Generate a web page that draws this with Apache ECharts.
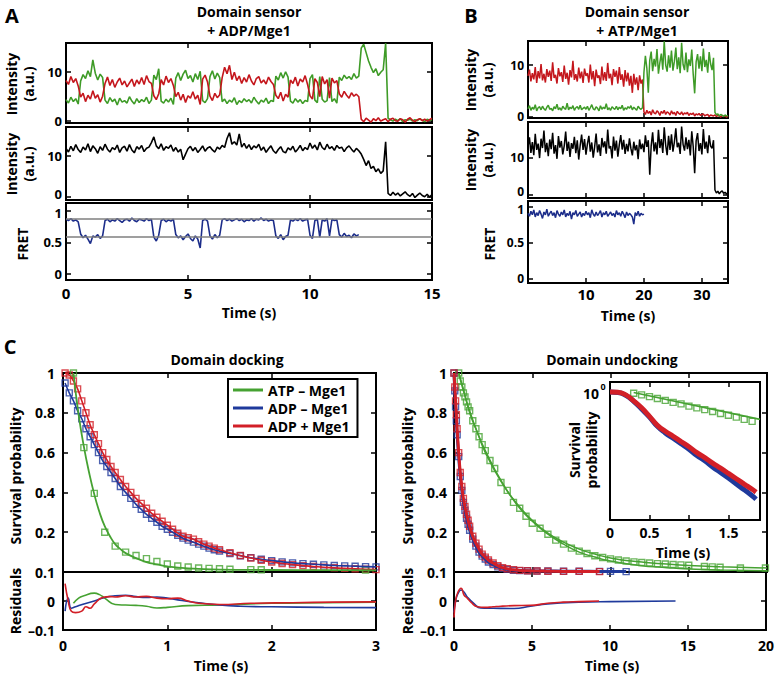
<!DOCTYPE html>
<html><head><meta charset="utf-8">
<script src="https://cdn.jsdelivr.net/npm/echarts@6/dist/echarts.min.js"></script>
<style>html,body{margin:0;padding:0;background:#fff}#c{width:777px;height:675px}</style>
</head><body><div id="c"></div>
<script>
// ---------------- DATA ----------------
// Panel A: single-molecule traces, sampled every 0.1 s
const dtA = 0.1;
const redA = [8.2,7.4,9.0,7.8,8.6,7.1,
 4.8,5.6,3.9,5.2,4.4,6.1,4.6,5.3,3.8,5.0,
 7.6,8.9,7.2,8.4,6.8,7.9,8.7,7.3,8.1,6.9,7.7,8.5,7.0,8.3,7.5,8.8,7.4,9.2,8.0,7.6,
 5.1,4.3,5.5,
 8.4,7.3,9.1,7.8,8.6,7.2,
 4.9,5.8,4.2,5.4,3.7,5.1,4.6,5.9,4.4,5.2,3.3,
 8.5,9.3,7.9,
 5.0,4.1,5.6,4.7,5.3,
 8.8,10.9,9.6,11.3,8.4,9.9,8.2,9.1,7.6,8.8,7.9,9.4,8.1,7.3,8.6,9.0,7.7,8.3,7.5,8.9,8.0,7.4,
 5.2,4.5,5.8,4.0,5.4,4.8,
 8.3,7.6,8.9,7.1,8.5,7.9,9.2,7.4,
 5.1,4.4, 8.6,7.8, 4.9, 9.0,7.5,8.4, 4.6, 8.7,7.7,8.2,
 5.5,4.8,6.0,5.2,4.6,5.7,5.0,5.4,4.9,
 0.3,-0.2,0.5,0.1,-0.3,0.4,0.0,0.6,-0.1,0.2,0.4,-0.2,0.3,0.5,0.0,-0.1,0.4,0.2,-0.3,0.3,0.6,0.1,-0.2,0.2,0.4,0.0,0.3,-0.1,0.2,0.5];
const greenA = [4.3,3.6,4.8,3.9,4.5,3.4,
 8.1,9.4,8.6,10.2,9.0,12.4,9.7,8.3,9.5,8.8,
 4.2,3.5,4.7,3.9,4.4,3.2,4.6,3.8,4.1,3.6,4.9,4.0,3.4,4.5,3.7,4.3,3.9,4.8,3.5,4.2,
 9.3,8.4,10.6,
 4.0,3.6,4.4,3.8,4.6,3.3,
 8.7,9.8,8.2,9.5,10.3,8.6,9.2,7.9,9.6,8.4,10.1,
 4.1,3.7,4.5,
 9.0,10.2,8.5,9.7,8.8,
 3.9,4.4,3.5,4.2,3.8,4.7,3.3,4.1,3.7,4.5,3.9,4.3,3.6,4.8,4.0,3.4,4.2,3.8,4.6,3.5,4.1,3.9,
 9.1,8.3,9.8,8.7,10.0,8.9,
 4.0,3.6,4.5,3.8,4.3,3.5,4.1,3.9,
 8.6,9.4, 4.2,3.7, 9.0, 4.4,3.8,4.1, 8.8, 3.9,4.5,3.6,
 8.9,8.2,9.3,8.6,9.0,8.4,9.6,8.7,9.1,
 14.8,15.6,13.9,12.2,10.9,9.8,10.6,9.2,9.9,10.4,15.8,
 0.5,0.2,-0.1,0.3,0.0,0.4,-0.2,0.2,0.1,0.3,-0.1,0.2,0.0,0.4,0.1,-0.2,0.3,0.1,0.2];
const blackA = [11.8,10.9,12.3,11.2,12.7,11.5,10.8,12.1,11.4,12.9,
 11.0,12.4,11.7,10.6,12.2,11.3,12.8,11.6,10.9,12.0,
 11.5,12.6,10.8,11.9,12.3,11.1,12.7,11.4,10.7,12.2,
 11.6,12.5,11.0,11.8,12.1,13.2,14.6,12.4,11.7,12.9,
 11.3,12.2,11.8,12.6,11.1,12.0,10.9,11.6,9.0,10.4,
 11.7,12.3,11.2,12.0,10.8,11.5,12.4,11.1,11.9,12.2,
 11.4,10.9,12.1,11.6,12.5,12.0,14.2,15.6,12.8,13.4,
 12.6,15.3,12.1,13.0,11.8,12.7,11.5,12.4,11.9,12.8,
 11.3,12.1,10.8,11.7,12.4,11.2,10.6,11.5,12.2,11.0,
 10.7,11.9,11.4,12.3,10.9,11.6,12.5,11.2,12.0,11.5,
 13.1,11.8,12.6,11.4,13.3,12.0,11.5,12.8,11.7,12.2,
 11.3,12.5,11.8,12.1,11.0,11.9,12.4,11.6,10.9,11.8,
 11.2,10.4,9.1,7.6,8.8,6.9,7.4,6.1,6.8,5.7,
 6.3,13.4,0.8,0.3,1.1,0.4,0.9,0.2,0.7,1.2,
 0.5,0.1,0.8,-0.2,0.4,0.9,0.3,0.0,0.6,-0.1,0.5];
const fretA = [0.86,0.84,0.87,0.83,0.85,0.82,
 0.63,0.57,0.61,0.55,0.48,0.60,0.58,0.62,0.56,0.60,
 0.84,0.86,0.82,0.85,0.83,0.87,0.84,0.81,0.85,0.86,0.83,0.88,0.84,0.82,0.86,0.85,0.83,0.87,0.84,0.86,
 0.58,0.52,0.61,
 0.84,0.86,0.82,0.85,0.83,0.86,
 0.62,0.57,0.60,0.54,0.59,0.63,0.56,0.52,0.60,0.55,0.41,
 0.84,0.86,0.83,
 0.60,0.55,0.62,0.57,0.61,
 0.85,0.87,0.84,0.86,0.83,0.85,0.87,0.84,0.86,0.82,0.85,0.84,0.87,0.83,0.86,0.85,0.88,0.84,0.86,0.83,0.85,0.84,
 0.60,0.56,0.62,0.54,0.59,0.61,
 0.85,0.83,0.86,0.84,0.87,0.83,0.85,0.86,
 0.61,0.56, 0.84,0.86, 0.58, 0.85,0.83,0.87, 0.60, 0.86,0.84,0.85,
 0.62,0.58,0.64,0.59,0.61,0.57,0.63,0.60,0.62];
const fretLevelsA = [0.87, 0.595];

// Panel B: traces sampled every 0.25 s
const dtB = 0.25;
const redB = [7.9,9.1,6.8,8.4,7.2,9.6,6.5,8.8,7.4,10.2,7.0,8.3,6.6,9.2,7.7,8.9,6.9,10.5,7.5,8.1,
 6.4,9.4,7.8,8.6,6.7,9.9,7.3,8.5,6.2,9.0,7.6,10.8,7.1,8.2,6.8,9.5,7.4,8.7,6.5,9.3,
 7.9,8.4,6.6,10.1,7.2,8.8,5.9,9.1,7.5,8.0,6.3,9.7,7.0,8.6,6.9,10.4,7.4,8.3,6.1,9.2,
 7.7,8.9,6.4,9.6,7.1,8.2,5.8,9.0,6.8,8.5,6.0,7.9,4.6,8.3,6.2,7.6,5.1,8.0,6.4,7.2,
 0.9,0.4,1.2,0.6,1.0,0.3,1.3,0.7,0.5,1.1,0.8,0.2,1.0,0.6,1.2,0.4,0.9,0.7,0.3,1.1,
 0.5,0.8,0.2,1.0,0.6,0.4,0.9,0.3,0.7,0.5,0.8,0.2,0.6,0.4,0.7,0.1,0.5,0.3,0.6,0.2,
 0.4,0.5,0.1,0.3,0.4,0.0,0.3,0.2,0.1,0.3,0.0,0.2,0.1,-0.1,0.2,0.0,0.1,-0.1,0.1];
const greenB = [1.5,2.1,1.2,1.8,1.4,2.3,1.1,1.7,1.9,1.3,2.0,1.5,1.2,1.8,2.2,1.4,1.6,1.1,1.9,1.5,
 2.4,1.3,1.7,1.2,2.0,1.6,1.4,2.6,1.3,1.8,1.5,2.1,1.2,1.7,1.9,1.4,2.2,1.3,1.6,1.8,
 1.4,2.0,1.2,1.7,2.3,1.5,1.3,1.9,1.6,1.1,2.1,1.4,1.8,1.5,2.5,1.3,1.7,1.2,1.9,1.6,
 1.4,2.0,1.3,1.8,1.5,2.2,1.2,1.7,1.4,1.9,1.6,2.1,1.3,1.8,1.5,1.2,2.0,1.6,1.4,1.7,
 8.6,11.8,9.4,4.6,10.9,12.6,8.8,11.2,9.7,13.1,8.3,10.5,12.2,9.1,14.6,10.0,8.7,11.9,9.5,12.8,
 8.9,10.7,13.4,9.2,11.5,8.4,14.3,10.1,9.0,12.4,8.6,11.1,9.8,13.0,8.2,4.5,10.6,12.1,9.3,11.7,
 8.8,13.2,9.6,11.0,8.5,12.5,10.2,9.0,11.4,
 0.8,0.3,0.5,0.1,0.4,0.2,0.0,0.3,0.1,0.2];
const blackB = [12.8,15.4,11.2,14.1,10.6,16.3,12.0,13.7,9.8,15.0,12.5,17.2,11.4,13.9,10.3,14.8,12.2,16.6,11.0,13.3,
 9.6,15.7,12.6,14.4,10.8,13.1,16.9,11.7,14.2,10.1,13.8,12.3,15.5,11.1,14.6,9.4,13.2,16.1,12.0,14.9,
 10.7,13.6,15.8,11.5,14.0,9.9,12.9,16.4,11.3,13.5,10.4,15.2,12.7,14.3,11.0,17.5,12.4,13.0,9.7,15.6,
 11.8,14.5,10.2,13.4,16.0,12.1,14.7,10.9,13.6,11.6,15.1,12.4,10.5,14.2,11.9,13.3,9.5,14.8,12.2,13.7,
 11.4,15.9,12.8,14.6,5.3,13.1,16.7,11.6,14.0,10.8,17.4,12.5,14.9,11.2,18.1,13.3,10.6,15.8,12.0,16.2,
 11.5,14.1,17.8,12.7,13.9,10.9,18.3,13.5,11.8,15.4,12.2,14.7,10.5,17.0,12.9,5.7,14.4,16.5,11.7,13.8,
 10.8,17.6,12.3,14.2,11.1,15.9,13.0,12.4,14.6,
 1.2,0.4,0.9,0.2,0.7,1.0,0.3,0.6,0.1,0.5];
const fretB = [0.91,0.87,0.94,0.89,0.96,0.86,0.92,0.88,0.95,0.90,0.84,0.93,0.89,0.97,0.87,0.91,0.94,0.88,0.92,0.85,
 0.95,0.90,0.87,0.93,0.89,0.96,0.86,0.91,0.88,0.94,0.83,0.92,0.89,0.95,0.87,0.90,0.93,0.86,0.91,0.88,
 0.94,0.89,0.92,0.85,0.96,0.90,0.87,0.93,0.88,0.91,0.95,0.86,0.92,0.89,0.94,0.87,0.90,0.93,0.88,0.91,
 0.86,0.95,0.89,0.92,0.87,0.94,0.90,0.85,0.93,0.88,0.91,0.89,0.86,0.76,0.92,0.88,0.94,0.87,0.91,0.89,
 0.90];

// Panel C left: domain docking survival
const dockT = [0.02,0.06,0.1,0.14,0.18,0.22,0.26,0.3,0.34,0.38,0.42,0.46,0.5,0.55,0.6,0.65,0.7,0.75,0.8,0.85,0.9,0.95,1.0,1.05,1.1,1.15,1.2,1.25,1.3,1.35,1.4,1.45,1.5,1.6,1.7,1.8,1.9,2.0,2.1,2.2,2.3,2.4,2.5,2.6,2.7,2.8,2.9,3.0];
const dockBlue = [0.95,0.90,0.86,0.81,0.77,0.72,0.68,0.64,0.60,0.56,0.53,0.50,0.47,0.43,0.40,0.37,0.34,0.315,0.29,0.27,0.25,0.23,0.215,0.20,0.185,0.17,0.16,0.15,0.14,0.13,0.12,0.112,0.105,0.093,0.082,0.072,0.064,0.057,0.051,0.046,0.042,0.039,0.036,0.033,0.031,0.029,0.027,0.026];
const dockRed = [1.0,0.99,0.96,0.92,0.86,0.80,0.74,0.69,0.645,0.60,0.565,0.53,0.50,0.465,0.43,0.40,0.37,0.345,0.32,0.295,0.275,0.255,0.235,0.215,0.195,0.18,0.172,0.165,0.152,0.14,0.13,0.12,0.112,0.097,0.083,0.07,0.059,0.05,0.043,0.037,0.032,0.028,0.024,0.021,0.018,0.016,0.014,0.012];
const dockGreenT = [0.1,0.2,0.3,0.4,0.5,0.6,0.7,0.8,0.9,1.0,1.1,1.2,1.3,1.4,1.5,1.6,1.8,1.9,2.9];
const dockGreen = [1.0,0.625,0.395,0.20,0.13,0.10,0.083,0.067,0.053,0.04,0.03,0.025,0.02,0.018,0.016,0.014,0.012,0.011,0.01];
const dockGreenFitT = [0.1,0.15,0.2,0.25,0.3,0.35,0.4,0.45,0.5,0.55,0.6,0.7,0.8,0.9,1.0,1.2,1.5,2.0,2.5,3.0];
const dockGreenFit = [1.0,0.79,0.63,0.50,0.39,0.30,0.23,0.18,0.14,0.115,0.095,0.07,0.05,0.038,0.028,0.018,0.012,0.01,0.009,0.008];
const dockResGreen = [[0.1,-0.008],[0.15,0.01],[0.2,0.018],[0.3,0.027],[0.35,0.022],[0.4,0.01],[0.5,-0.012],[0.6,-0.014],[0.7,-0.015],[0.8,-0.018],[0.9,-0.024],[1.0,-0.022],[1.2,-0.016],[1.5,-0.014],[2.0,-0.008],[2.5,-0.006],[3.0,-0.004]];
const dockResBlue = [[0.02,-0.035],[0.05,0.01],[0.08,-0.025],[0.12,-0.02],[0.2,-0.01],[0.3,0.0],[0.4,0.012],[0.5,0.018],[0.6,0.02],[0.7,0.015],[0.8,0.012],[0.9,0.014],[1.0,0.01],[1.1,0.004],[1.3,-0.006],[1.5,-0.014],[1.7,-0.018],[2.0,-0.02],[2.5,-0.022],[3.0,-0.023]];
const dockResRed = [[0.02,0.06],[0.05,0.0],[0.08,-0.035],[0.12,-0.04],[0.18,-0.035],[0.22,-0.02],[0.26,-0.025],[0.3,-0.01],[0.38,0.012],[0.45,0.015],[0.5,0.014],[0.6,0.018],[0.7,0.014],[0.8,0.016],[0.9,0.01],[1.0,0.008],[1.1,0.01],[1.2,0.0],[1.3,-0.008],[1.5,-0.012],[1.8,-0.008],[2.2,-0.006],[2.6,-0.004],[3.0,-0.003]];

// Panel C right: domain undocking survival
const undockT = [0,0.05,0.1,0.15,0.2,0.3,0.4,0.5,0.6,0.7,0.8,0.9,1.0,1.2,1.4,1.6,1.8,2.0,2.2,2.5,2.8,3.1,3.4,3.8,4.2,4.7,5.3,6.0,7.0,8.0,9.3,10.0,11.0];
const undockRed = [1.0,0.93,0.86,0.79,0.72,0.60,0.50,0.43,0.37,0.33,0.29,0.26,0.23,0.18,0.145,0.115,0.09,0.075,0.06,0.045,0.032,0.022,0.016,0.011,0.008,0.006,0.005,0.004,0.003,0.003,0.002];
const undockBlue = [1.0,0.91,0.83,0.76,0.69,0.58,0.48,0.41,0.35,0.31,0.27,0.24,0.21,0.165,0.13,0.10,0.08,0.065,0.05,0.037,0.026,0.018,0.013,0.009,0.007,0.006,0.005,0.005,0.004,0.004,0.003,0.003,0.002];
const undockGreenT = [0.3,0.4,0.5,0.6,0.7,0.8,0.9,1.0,1.2,1.4,1.6,1.8,2.0,2.3,2.6,3.0,3.4,3.8,4.2,4.6,5.0,5.5,6.0,6.5,7.0,7.5,8.0,8.5,9.0,9.5,10.0,10.5,11.0,11.5,12.0,12.5,13.0,13.5,14.0,14.5,15.0,16.0,16.5,17.0,18.3,19.9];
const undockGreen = [1.0,0.96,0.93,0.90,0.88,0.855,0.83,0.81,0.76,0.72,0.68,0.64,0.61,0.56,0.52,0.45,0.41,0.35,0.32,0.28,0.245,0.22,0.19,0.16,0.14,0.12,0.105,0.093,0.082,0.073,0.066,0.06,0.055,0.051,0.048,0.045,0.042,0.04,0.038,0.036,0.034,0.028,0.026,0.024,0.02,0.02];
const undockGreenFitT = [0.3,0.6,1,1.5,2,3,4,5,6,7,8,9,10,11,12,13,14,15,17,20];
const undockGreenFitA = [1.0,0.91,0.81,0.70,0.61,0.46,0.34,0.255,0.19,0.14,0.10,0.075,0.055,0.042,0.032,0.025,0.02,0.015,0.01,0.006];
const undockGreenFitB = [1.0,0.92,0.80,0.70,0.60,0.455,0.345,0.26,0.195,0.15,0.115,0.09,0.07,0.058,0.05,0.043,0.038,0.033,0.027,0.02];
const undockResRed = [[0,-0.057],[0.1,0.0],[0.25,0.03],[0.45,0.044],[0.65,0.02],[0.85,0.01],[1.1,-0.005],[1.5,-0.02],[2.0,-0.022],[2.5,-0.02],[3.0,-0.018],[3.85,-0.016],[4.9,-0.015],[6.0,-0.008],[7.0,-0.004],[8.0,-0.002],[9.3,0.0]];
const undockResBlue = [[0,-0.04],[0.1,0.0],[0.25,0.025],[0.45,0.038],[0.65,0.03],[0.85,0.014],[1.3,-0.01],[1.7,-0.024],[2.5,-0.025],[3.85,-0.026],[4.9,-0.018],[6.0,-0.01],[8.0,-0.004],[10.0,-0.002],[14.2,0.0]];

// Inset (log scale)
const insetT = [0,0.1,0.2,0.3,0.4,0.5,0.6,0.7,0.8,0.9,1.0,1.1,1.2,1.3,1.4,1.5,1.6,1.7,1.8,1.85];
const insetRed = [1.0,0.995,0.93,0.8,0.67,0.54,0.43,0.37,0.325,0.285,0.25,0.215,0.19,0.165,0.145,0.127,0.111,0.097,0.085,0.079];
const insetBlue = [1.0,0.99,0.92,0.79,0.65,0.53,0.42,0.355,0.31,0.27,0.235,0.2,0.175,0.15,0.13,0.113,0.097,0.084,0.072,0.066];
const insetGreenT = [0.3,0.4,0.5,0.6,0.7,0.8,0.9,1.0,1.1,1.2,1.3,1.4,1.5,1.6,1.7,1.8];
const insetGreen = [0.97,0.93,0.89,0.85,0.81,0.77,0.74,0.70,0.67,0.64,0.61,0.58,0.555,0.53,0.50,0.475];
const insetGreenFit = [[0.3,0.99],[1.9,0.5]];

const legendNames = ['ATP \u2013 Mge1','ADP \u2013 Mge1','ADP + Mge1'];

// ---------------- BUILD ----------------
const FONT = '"Open Sans","Liberation Sans",sans-serif';
const C = {gA:'#3e9b27', rA:'#c4161c', navy:'#1c2d8a', g:'#46a232', b:'#1f3a9c', r:'#d21f27'};
const stepped = (dt, vs) => vs.map((v,i)=>[+(i*dt).toFixed(3), v]);
const zip = (ts, vs) => vs.map((v,i)=>[ts[i], v]);

const grids=[], xAxes=[], yAxes=[], series=[];
function panel(box, xo, yo) {
  const gi = grids.length;
  grids.push({left:box[0], top:box[1], width:box[2], height:box[3], show:true, borderColor:'#000', borderWidth:2,
    backgroundColor: box[4] || 'transparent'});
  const mk = (o, pos, lab) => ({
    gridIndex: gi, type: o.type || 'value', position: pos, min: o.min, max: o.max,
    axisLine:{show:false, onZero:false}, splitLine:{show:false},
    axisTick:{show: !!o.ticks, inside:true, length:5, lineStyle:{color:'#000', width:1.5}, customValues:o.ticks},
    axisLabel:{show: lab && !!o.labels, customValues:o.labels, formatter:o.fmt, margin:o.margin||5,
      color:'#000', fontSize:o.fs||14, lineHeight:o.lh||16, fontWeight:'bold', fontFamily:FONT}
  });
  xAxes.push(mk(xo,'bottom',true), mk(xo,'top',false));
  yAxes.push(mk(yo,'left',true), mk(yo,'right',false));
  return gi*2;
}
function line(ax, name, data, color, width, extra) {
  series.push(Object.assign({type:'line', name, xAxisIndex:ax, yAxisIndex:ax, data, showSymbol:false, symbol:'none',
    lineStyle:{color, width}, itemStyle:{color}, animation:false, silent:true}, extra||{}));
}
function squares(ax, data, color) {
  series.push({type:'scatter', xAxisIndex:ax, yAxisIndex:ax, data, symbol:'rect', symbolSize:6,
    itemStyle:{color:'rgba(255,255,255,0)', borderColor:color, borderWidth:1.4}, animation:false, silent:true});
}
const resFmt = v => v < 0 ? '\u2013' + (-v) : String(v);
// labels of adjacent stacked panels are nudged a couple of pixels apart so they don't collide
const zeroUp = v => v < 5 ? '0' : String(v);
const oneDown = v => v > 0.9 ? '1' : String(v);

// Panel A
const xA = {min:0, max:15, ticks:[0,5,10,15]};
const yLabA = {margin:4, lh:11, fs:13};
const a1 = panel([66,43,366,80], xA, Object.assign({min:-0.47, max:15.86, ticks:[0,10], labels:[0,10]}, yLabA));
const a2 = panel([66,127,366,73], xA, Object.assign({min:-0.8, max:17.0, ticks:[0,10], labels:[0.6,10], fmt:zeroUp}, yLabA));
const a3 = panel([66,203,366,77], Object.assign({}, xA, {labels:[0,5,10,15], fs:15}), Object.assign({min:-0.09, max:1.114, ticks:[0,0.5,1], labels:[0,0.5,0.96], fmt:oneDown}, yLabA));
line(a1,'a-green', stepped(dtA, greenA), C.gA, 1.6);
line(a1,'a-red', stepped(dtA, redA), C.rA, 1.6);
line(a2,'a-total', stepped(dtA, blackA), '#000', 1.6);
line(a3,'a-fret', stepped(dtA, fretA), C.navy, 1.6, {markLine:{silent:true, symbol:'none', animation:false, label:{show:false},
  lineStyle:{color:'#7f7f7f', width:1.5, type:'solid'}, data: fretLevelsA.map(v=>({yAxis:v}))}, z:3});

// Panel B
const xB = {min:0, max:34.5, ticks:[10,20,30]};
const yLabB = {margin:4, lh:11, fs:12};
const b1 = panel([528,41,200,77], xB, Object.assign({min:-0.29, max:14.66, ticks:[0,10], labels:[0,10]}, yLabB));
const b2 = panel([528,122,200,76], xB, Object.assign({min:-0.94, max:19.5, ticks:[0,10], labels:[0.7,10], fmt:zeroUp}, yLabB));
const b3 = panel([528,201,200,82], Object.assign({}, xB, {labels:[10,20,30], fs:15, margin:3}), Object.assign({min:-0.066, max:1.084, ticks:[0,0.5,1], labels:[0,0.5,0.963], fmt:oneDown}, yLabB));
line(b1,'b-red', stepped(dtB, redB), C.rA, 1.5);
line(b1,'b-green', stepped(dtB, greenB), C.gA, 1.5);
line(b2,'b-total', stepped(dtB, blackB), '#000', 1.5);
line(b3,'b-fret', stepped(dtB, fretB), C.navy, 1.5);

// Panel C left
const yMain = {min:0, max:1, ticks:[0,0.2,0.4,0.6,0.8,1], labels:[0.2,0.4,0.6,0.8,1], margin:8};
const yRes = {min:-0.1, max:0.1, ticks:[-0.1,0,0.1], labels:[-0.1,0,0.1], fmt:resFmt, margin:8};
const cl1 = panel([63,373,313,199], {min:0, max:3, ticks:[0,1,2,3]}, yMain);
const cl2 = panel([63,572,313,58], {min:0, max:3, ticks:[0,1,2,3], labels:[0,1,2,3], margin:7}, yRes);
squares(cl1, zip(dockT, dockBlue), C.b);
line(cl1, legendNames[1], zip(dockT, dockBlue), C.b, 1.6, {smooth:true});
squares(cl1, zip(dockT, dockRed), C.r);
line(cl1, legendNames[2], zip(dockT, dockRed), C.r, 1.6, {smooth:true});
squares(cl1, zip(dockGreenT, dockGreen), C.g);
line(cl1, legendNames[0], zip(dockGreenFitT, dockGreenFit), C.g, 1.8, {smooth:true});
line(cl2, 'res-g', dockResGreen, C.g, 1.6, {smooth:true});
line(cl2, 'res-b', dockResBlue, C.b, 1.6, {smooth:true});
line(cl2, 'res-r', dockResRed, C.r, 1.6, {smooth:true});

// Panel C right
const cr1 = panel([454,373,313,199], {min:0, max:20, ticks:[0,5,10,15,20]}, Object.assign({}, yMain, {margin:7}));
const cr2 = panel([454,572,313,58], {min:0, max:20, ticks:[0,5,10,15,20], labels:[0,5,10,15,20], margin:7}, Object.assign({}, yRes, {margin:7}));
line(cr1,'u-gfa', zip(undockGreenFitT, undockGreenFitA), C.g, 1.5, {smooth:true});
line(cr1,'u-gfb', zip(undockGreenFitT, undockGreenFitB), C.g, 1.5, {smooth:true});
squares(cr1, zip(undockGreenT, undockGreen), C.g);
line(cr1,'u-b', zip(undockT, undockBlue), C.b, 3, {smooth:true});
squares(cr1, zip(undockT, undockBlue), C.b);
line(cr1,'u-r', zip(undockT, undockRed), C.r, 3, {smooth:true});
squares(cr1, zip(undockT, undockRed), C.r);
line(cr2,'ur-b', undockResBlue, C.b, 1.6, {smooth:true});
line(cr2,'ur-r', undockResRed, C.r, 1.6, {smooth:true});

// Inset
const ins = panel([610,382,150,138,'#fff'], {min:0, max:1.9, ticks:[0,0.5,1,1.5], labels:[0,0.5,1,1.5], margin:4}, {type:'log', min:0.039, max:1.29});
line(ins,'i-b', zip(insetT, insetBlue), C.b, 5, {smooth:true});
line(ins,'i-r', zip(insetT, insetRed), C.r, 5, {smooth:true});
line(ins,'i-gf', insetGreenFit, C.g, 1.6);
squares(ins, zip(insetGreenT, insetGreen), C.g);

// ---------------- TEXT ----------------
const T = (text, x, y, o) => ({type:'text', x, y, rotation:(o&&o.rot)||0, silent:true, z:100,
  style:{text, fill:'#000', font:`bold ${(o&&o.fs)||14}px ${FONT}`, align:'center', verticalAlign:'middle',
    textAlign:'center', textVerticalAlign:'middle', lineHeight:(o&&o.lh)||17}});
const R = Math.PI/2;
const graphic = [
  T('A', 12, 15, {fs:20}), T('Domain sensor', 249, 11), T('+ ADP/Mge1', 249, 30),
  T('Intensity\n(a.u.)', 20, 84, {rot:R}), T('Intensity\n(a.u.)', 20, 164, {rot:R}), T('FRET', 22, 244, {rot:R}),
  T('Time (s)', 249, 312),
  T('B', 471, 15, {fs:20}), T('Domain sensor', 637, 11), T('+ ATP/Mge1', 637, 30),
  T('Intensity\n(a.u.)', 479, 80, {rot:R}), T('Intensity\n(a.u.)', 479, 160, {rot:R}), T('FRET', 489, 244, {rot:R}),
  T('Time (s)', 628, 315),
  T('C', 10, 346, {fs:20}), T('Domain docking', 227, 359), T('Domain undocking', 612, 359),
  T('Survival probability', 15, 476, {rot:R}), T('Residuals', 15, 601, {rot:R}),
  T('Survival probability', 407, 476, {rot:R}), T('Residuals', 407, 601, {rot:R}),
  T('Time (s)', 221, 665), T('Time (s)', 612, 665),
  T('Survival\nprobability', 583, 450, {rot:R}), T('Time (s)', 683, 552),
  T('10', 591, 393), T('0', 603, 386, {fs:9})
];

const chart = echarts.init(document.getElementById('c'), null, {renderer:'svg'});
chart.setOption({
  animation:false, backgroundColor:'#fff',
  grid: grids, xAxis: xAxes, yAxis: yAxes, series,
  legend: {data: legendNames, orient:'vertical', left:228, top:379, itemWidth:30, itemHeight:3, icon:'rect', itemGap:4,
    padding:[4,8,4,5], borderColor:'#000', borderWidth:2, backgroundColor:'#fff', selectedMode:false,
    textStyle:{fontSize:14, fontWeight:'bold', fontFamily:FONT, color:'#000'}},
  graphic
});
</script></body></html>
